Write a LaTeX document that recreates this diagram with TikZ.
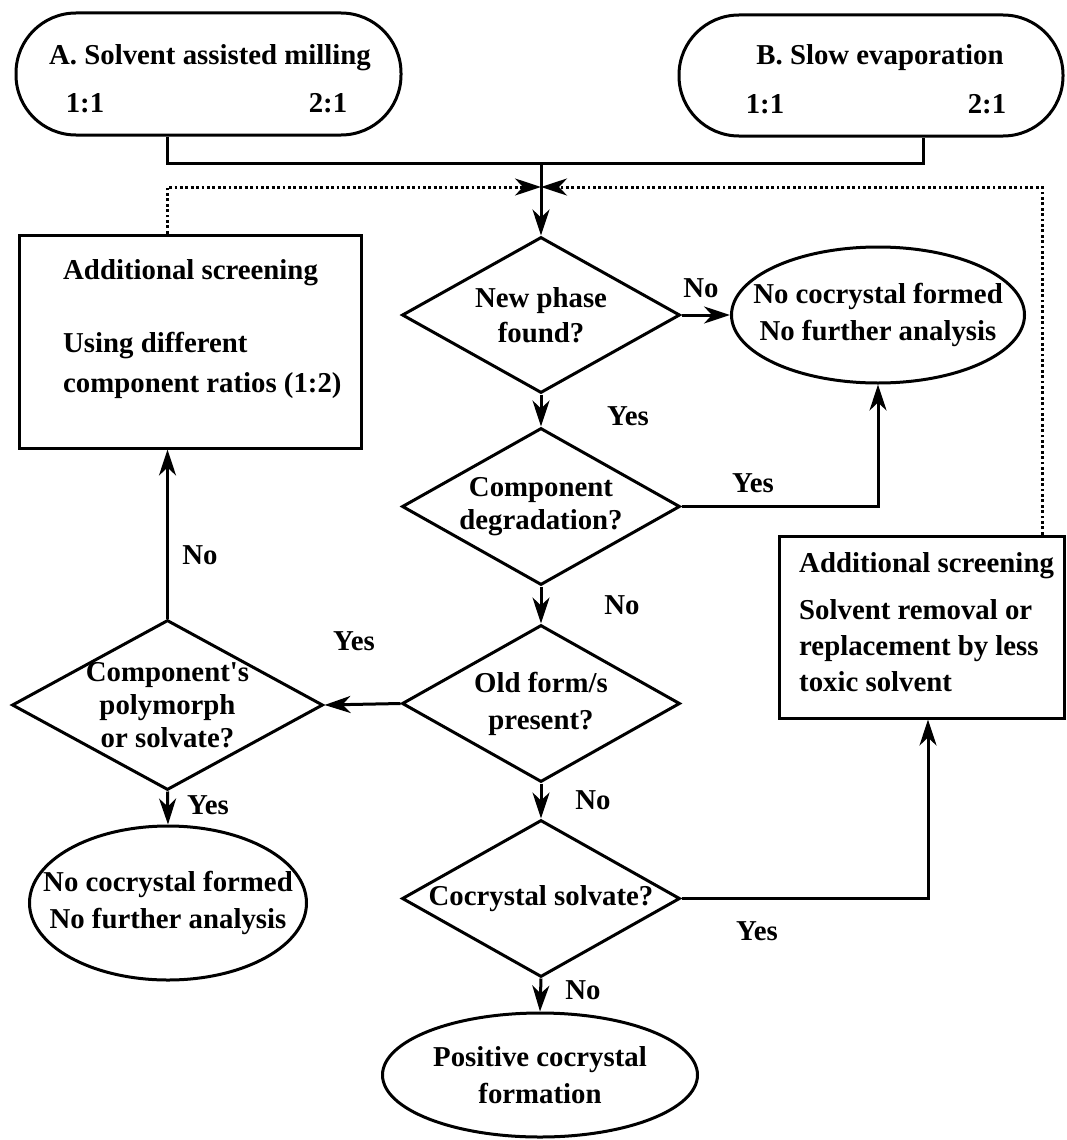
\documentclass[tikz,border=0pt]{standalone}
\usepackage{fontspec}
\setmainfont{Liberation Serif}[Ligatures=TeXOff]
\usetikzlibrary{arrows.meta,shapes.geometric,calc}
\begin{document}
\begin{tikzpicture}[x=1pt,y=-1pt,
  ln/.style={line width=3pt, line join=miter},
  arr/.style={ln, -{Stealth[length=26pt,width=17pt,inset=8pt]}},
  dotarr/.style={arr, dash pattern=on 2.8pt off 2.6pt},
  txt/.style={font=\fontsize{28.8}{35}\selectfont\bfseries, align=center, inner sep=0pt},
  pill/.style={draw, ln, rectangle, rounded corners=60pt, inner sep=0pt},
  box/.style={draw, ln, rectangle, inner sep=0pt},
  dia/.style={draw, ln, diamond, inner sep=0pt},
  ell/.style={draw, ln, ellipse, inner sep=0pt}]
\useasboundingbox (0,0) rectangle (1066,1140);

% start pills
\node[pill, minimum width=385pt, minimum height=122pt] (pA) at (208.5,74) {};
\node[pill, minimum width=384pt, minimum height=121pt] (pB) at (871,75.5) {};
\node[txt, anchor=base] (pAt) at (210,64.5) {A. Solvent assisted milling};
\node[txt, anchor=base] (pA1) at (85,112) {1:1};
\node[txt, anchor=base] (pA2) at (328,112) {2:1};
\node[txt, anchor=base] (pBt) at (880,65) {B. Slow evaporation};
\node[txt, anchor=base] (pB1) at (765,113) {1:1};
\node[txt, anchor=base] (pB2) at (987,113) {2:1};

% decisions
\node[dia, minimum width=278pt, minimum height=156pt] (d1) at (541,315) {};
\node[dia, minimum width=278pt, minimum height=157pt] (d2) at (541,506.5) {};
\node[dia, minimum width=278pt, minimum height=157pt] (d3) at (541,703.5) {};
\node[dia, minimum width=278pt, minimum height=157pt] (d4) at (541,898.5) {};
\node[dia, minimum width=311pt, minimum height=170pt] (d5) at (167.5,705) {};
\node[txt] (d1t) at (d1) {New phase\\found?};
\node[txt, font=\fontsize{28.8}{33}\selectfont\bfseries] (d2t) at (d2) {Component\\degradation?};
\node[txt, font=\fontsize{28.8}{37}\selectfont\bfseries] (d3t) at (d3) {Old form/s\\present?};
\node[txt] (d4t) at (d4) {Cocrystal solvate?};
\node[txt, font=\fontsize{28.8}{33}\selectfont\bfseries] (d5t) at (d5) {Component's\\polymorph\\or solvate?};

% terminals
\node[ell, minimum width=293pt, minimum height=136pt] (e1) at (878,315) {};
\node[ell, minimum width=277pt, minimum height=154pt] (e2) at (168,903) {};
\node[ell, minimum width=315pt, minimum height=124pt] (e3) at (540,1075) {};
\node[txt, font=\fontsize{28.8}{37}\selectfont\bfseries] (e1t) at (e1) {No cocrystal formed\\No further analysis};
\node[txt, font=\fontsize{28.8}{37}\selectfont\bfseries] (e2t) at (e2) {No cocrystal formed\\No further analysis};
\node[txt, font=\fontsize{28.8}{37}\selectfont\bfseries] (e3t) at (e3) {Positive cocrystal\\formation};

% boxes
\node[box, minimum width=342pt, minimum height=213pt] (box1) at (190,341.5) {};
\node[box, minimum width=285pt, minimum height=182pt] (box2) at (921.5,627) {};
\node[txt, align=left, anchor=west, font=\fontsize{28.8}{40}\selectfont\bfseries] (box1t) at (63,329.5)
  {Additional screening\\[33pt]Using different\\component ratios (1:2)};
\node[txt, align=left, anchor=west, font=\fontsize{28.8}{36}\selectfont\bfseries] (box2t) at (799,622.5)
  {Additional screening\\[11pt]Solvent removal or\\replacement by less\\toxic solvent};

% merge points
\coordinate (j) at (541,163);
\coordinate (jd) at (541,187);

% connectors
\draw[ln] ([xshift=-41.5pt]pA.south) |- (j) -| ([xshift=52pt]pB.south);
\draw[arr] (j) -- (d1.north);
\draw[dotarr] ([xshift=-23pt]box1.north) |- (jd);
\draw[dotarr] ([xshift=120.5pt]box2.north) |- (jd);

\draw[arr] (d1.east) -- (e1.west);
\draw[arr] (d1.south) -- (d2.north);
\draw[arr] (d2.east) -| (e1.south);
\draw[arr] (d2.south) -- (d3.north);
\draw[arr] (d3.west) -- (d5.east);
\draw[arr] (d5.north) -- (d5.north |- box1.south);
\draw[arr] (d5.south) -- (e2.north);
\draw[arr] (d3.south) -- (d4.north);
\draw[arr] (d4.south) -- (e3.north);
\draw[arr] (d4.east) -| ([xshift=6.5pt]box2.south);

% labels
\node[txt] (l1) at (701,288) {No};
\node[txt] (l2) at (628,416) {Yes};
\node[txt] (l3) at (753,483) {Yes};
\node[txt] (l4) at (622,605) {No};
\node[txt] (l5) at (354,641) {Yes};
\node[txt] (l6) at (200,555) {No};
\node[txt] (l7) at (208,805) {Yes};
\node[txt] (l8) at (593,800) {No};
\node[txt] (l9) at (583,990) {No};
\node[txt] (l10) at (757,931) {Yes};
\end{tikzpicture}
\end{document}
